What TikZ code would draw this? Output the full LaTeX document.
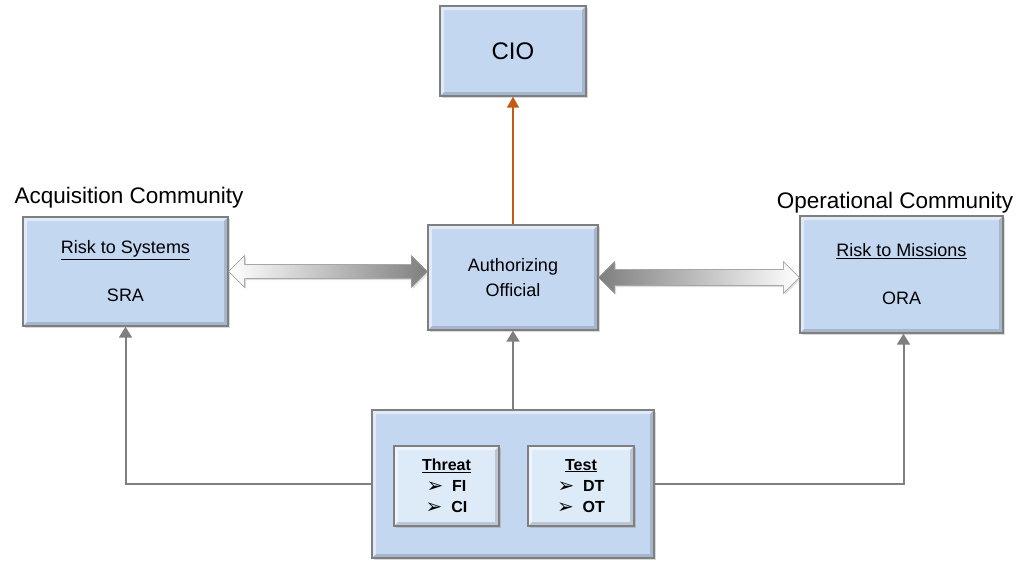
\documentclass[tikz,border=0pt]{standalone}
\usepackage{fontspec}
\setmainfont{Liberation Sans}
\newfontfamily\djv{DejaVu Sans}
\usetikzlibrary{shadows,arrows.meta,calc}
\definecolor{boxblue}{HTML}{C3D7F1}
\definecolor{innerblue}{HTML}{DDEAF8}
\definecolor{edgegray}{HTML}{7F7F7F}
\definecolor{orangeline}{HTML}{C55A11}
\newcommand{\bul}{\raisebox{-1pt}{\djv\mdseries\fontsize{20}{20}\selectfont ➢}\ \ }
\tikzset{
  bevel/.style={path picture={
    \fill[white,opacity=.5] (path picture bounding box.north west) -- (path picture bounding box.north east)
      -- ([xshift=-#1,yshift=-#1]path picture bounding box.north east) -- ([xshift=#1,yshift=-#1]path picture bounding box.north west)
      -- ([xshift=#1,yshift=#1]path picture bounding box.south west) -- (path picture bounding box.south west) -- cycle;
    \fill[black,opacity=.15] (path picture bounding box.south east) -- (path picture bounding box.south west)
      -- ([xshift=#1,yshift=#1]path picture bounding box.south west) -- ([xshift=-#1,yshift=#1]path picture bounding box.south east)
      -- ([xshift=-#1,yshift=-#1]path picture bounding box.north east) -- (path picture bounding box.north east) -- cycle;
  }},
  box/.style={draw=edgegray, line width=1.4pt, fill=boxblue, inner sep=0pt, anchor=center, align=center,
    bevel=4pt, drop shadow={shadow xshift=1.5pt, shadow yshift=-1.5pt, opacity=.3}},
  innerbox/.style={box, fill=innerblue, line width=1.2pt},
  conn/.style={draw=edgegray, line width=2pt, -{Triangle[length=11pt,width=13pt]}},
  upconn/.style={draw=orangeline, line width=2pt, -{Triangle[length=11pt,width=12pt]}},
  header/.style={font=\fontsize{22.5}{26}\selectfont, anchor=center, inner sep=0pt},
  fatleft/.style={draw=gray!70, line width=.6pt, left color=white, right color=edgegray},
  fatright/.style={draw=gray!70, line width=.6pt, left color=edgegray, right color=white},
}
\begin{document}
\begin{tikzpicture}[x=1pt,y=-1pt]
\useasboundingbox (0,0) rectangle (1021,562);
% nodes
\node[box, minimum width=146pt, minimum height=90pt, font=\fontsize{24}{28}\selectfont] (cio) at (513,51) {CIO};
\node[box, minimum width=170pt, minimum height=105pt, font=\fontsize{18}{25}\selectfont] (ao) at (513,277.5) {Authorizing\\Official};
\node[box, minimum width=205pt, minimum height=109pt, font=\fontsize{18}{22}\selectfont] (sra) at (125.5,271.5) {\underline{Risk to Systems}\\[26pt]SRA};
\node[box, minimum width=203pt, minimum height=117pt, font=\fontsize{18}{22}\selectfont] (ora) at (901.5,274.5) {\underline{Risk to Missions}\\[26pt]ORA};
\node[box, minimum width=282pt, minimum height=148pt] (bot) at (513,484) {};
\node[innerbox, minimum width=105pt, minimum height=80pt, font=\bfseries\fontsize{16}{21}\selectfont] (threat) at (446.5,486) {\underline{Threat}\\\bul FI\\\bul CI};
\node[innerbox, minimum width=106pt, minimum height=80pt, font=\bfseries\fontsize{16}{21}\selectfont] (test) at (581,486) {\underline{Test}\\\bul DT\\\bul OT};
\node[header] (acq) at (129,198) {Acquisition Community};
\node[header] (opc) at (895,203) {Operational Community};
% connectors
\draw[upconn] (ao.north) -- (cio.south);
\draw[conn] (bot.north) -- (ao.south);
\draw[conn] (bot.west) -| (sra.south);
\draw[conn] (bot.east) -| ($(ora.south)+(2,0)$);
% fat double arrows
\coordinate (la) at (sra.east);
\coordinate (lb) at (sra.east -| ao.west);
\fill[fatleft, drop shadow={shadow xshift=1.5pt, shadow yshift=-1.5pt, opacity=.25}]
  (la) -- ([shift={(16,-16)}]la) -- ([shift={(16,-7)}]la) -- ([shift={(-16,-7)}]lb) -- ([shift={(-16,-16)}]lb)
  -- (lb) -- ([shift={(-16,16)}]lb) -- ([shift={(-16,7)}]lb) -- ([shift={(16,7)}]la) -- ([shift={(16,16)}]la) -- cycle;
\coordinate (ra) at (ao.east);
\coordinate (rb) at (ao.east -| ora.west);
\fill[fatright, drop shadow={shadow xshift=1.5pt, shadow yshift=-1.5pt, opacity=.25}]
  (ra) -- ([shift={(16,-16)}]ra) -- ([shift={(16,-8)}]ra) -- ([shift={(-16,-8)}]rb) -- ([shift={(-16,-16)}]rb)
  -- (rb) -- ([shift={(-16,16)}]rb) -- ([shift={(-16,8)}]rb) -- ([shift={(16,8)}]ra) -- ([shift={(16,16)}]ra) -- cycle;
\end{tikzpicture}
\end{document}
